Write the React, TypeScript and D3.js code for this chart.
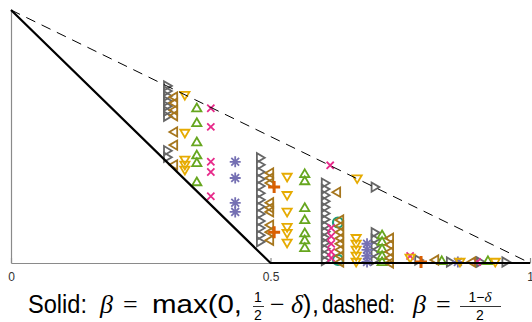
import React, { useEffect, useRef } from 'react';
import * as d3 from 'd3';

const W = 532;
const H = 322;

const xTicks = [0, 0.5, 1];
const xTickLabels = ['0', '0.5', '1'];

// boundary lines (delta, beta)
const solidX = [0, 0.5, 1];
const solidY = [0.5, 0, 0];
const dashedX = [0, 1];
const dashedY = [0.5, 0];

// each series: columns of [delta, beta values]
type Col = [number, number[]];

const tealCols: Col[] = [[0.63, [0.08, 0.006]]];
const orangeCols: Col[] = [
  [0.507, [0.15, 0.061]],
  [0.79, [0.002]],
];
const purpleCols: Col[] = [
  [0.432, [0.2, 0.168, 0.119, 0.101]],
  [0.686, [0.038, 0.026, 0.014, 0.002]],
  [0.861, [0.002]],
];
const pinkCols: Col[] = [
  [0.385, [0.306, 0.269, 0.2, 0.18, 0.132]],
  [0.615, [0.193]],
  [0.617, [0.069, 0.053, 0.038, 0.022, 0.01]],
  [0.769, [0.014]],
  [0.898, [0.002]],
];
const greenCols: Col[] = [
  [0.358, [0.306, 0.277, 0.239, 0.213, 0.198, 0.16]],
  [0.566, [0.176, 0.162, 0.109, 0.085, 0.059, 0.045, 0.03]],
  [0.715, [0.055, 0.042, 0.028, 0.014, 0.002]],
  [0.83, [0.004]],
  [0.919, [0.004]],
];
const yellowCols: Col[] = [
  [0.335, [0.332, 0.257, 0.204, 0.194, 0.184]],
  [0.532, [0.17, 0.134, 0.101, 0.071, 0.059, 0.04]],
  [0.667, [0.167]],
  [0.665, [0.049, 0.038, 0.026, 0.014, 0.002]],
  [0.769, [0.01]],
  [0.865, [0.002]],
  [0.933, [0.002]],
];
const brownCols: Col[] = [
  [0.314, [0.328, 0.316, 0.302, 0.291, 0.259, 0.233, 0.194]],
  [0.499, [0.178, 0.168, 0.158, 0.119, 0.109, 0.101, 0.075, 0.061, 0.045]],
  [0.628, [0.14]],
  [0.634, [0.085, 0.073, 0.061, 0.049, 0.038, 0.026, 0.014, 0.002]],
  [0.73, [0.049, 0.036, 0.022, 0.01, 0.0]],
  [0.817, [0.006]],
  [0.888, [0.002]],
];
const greyCols: Col[] = [
  [0.301, [0.35, 0.34, 0.33, 0.32, 0.31, 0.3, 0.29, 0.222, 0.209]],
  [0.48, [0.208, 0.194, 0.18, 0.166, 0.152, 0.138, 0.125, 0.111, 0.097, 0.083, 0.069, 0.055, 0.042]],
  [0.605, [0.158, 0.146, 0.134, 0.122, 0.11, 0.098, 0.086, 0.074, 0.062, 0.05, 0.04, 0.028, 0.016, 0.005]],
  [0.701, [0.15, 0.06, 0.047, 0.034, 0.02, 0.006]],
  [0.785, [0.006]],
  [0.846, [0.002]],
  [0.904, [0.002]],
  [0.953, [0.002]],
];

const pal = d3.schemeDark2;
// draw order matters a bit: later ones sit on top
const series = [
  { mk: '>', color: pal[7], cols: greyCols },
  { mk: 'o', color: pal[0], cols: tealCols },
  { mk: 'x', color: pal[3], cols: pinkCols },
  { mk: '*', color: pal[2], cols: purpleCols },
  { mk: '^', color: pal[4], cols: greenCols },
  { mk: 'v', color: pal[5], cols: yellowCols },
  { mk: '<', color: pal[6], cols: brownCols },
  { mk: '+', color: pal[1], cols: orangeCols },
];

function markerPath(mk: string): string {
  const p = d3.path();
  const r = 4.6;
  switch (mk) {
    case 'o':
      p.arc(0, 0, 5, 0, 2 * Math.PI);
      break;
    case '+':
      p.moveTo(-6, 0); p.lineTo(6, 0);
      p.moveTo(0, -6); p.lineTo(0, 6);
      break;
    case 'x':
      p.moveTo(-3.6, -3.6); p.lineTo(3.6, 3.6);
      p.moveTo(-3.6, 3.6); p.lineTo(3.6, -3.6);
      break;
    case '*': {
      const a = 5.5, b = 3.9;
      p.moveTo(-a, 0); p.lineTo(a, 0);
      p.moveTo(0, -a); p.lineTo(0, a);
      p.moveTo(-b, -b); p.lineTo(b, b);
      p.moveTo(-b, b); p.lineTo(b, -b);
      break;
    }
    case '^':
      p.moveTo(0, -r); p.lineTo(r, r * 0.7); p.lineTo(-r, r * 0.7); p.closePath();
      break;
    case 'v':
      p.moveTo(0, r); p.lineTo(r, -r * 0.7); p.lineTo(-r, -r * 0.7); p.closePath();
      break;
    case '<':
      p.moveTo(-r, 0); p.lineTo(r * 0.7, -r); p.lineTo(r * 0.7, r); p.closePath();
      break;
    default:
      p.moveTo(r, 0); p.lineTo(-r * 0.7, -r); p.lineTo(-r * 0.7, r); p.closePath();
  }
  return p.toString();
}

export default function App() {
  const ref = useRef<SVGGElement | null>(null);

  useEffect(() => {
    document.body.style.margin = '0';
    const root = d3.select(ref.current);
    root.selectAll('*').remove();

    const x = d3.scaleLinear().domain([0, 1]).range([11, 530]);
    const y = d3.scaleLinear().domain([0, 0.5]).range([263, 10]);
    const axisCol = '#8a8a8a';

    // axes
    const gx = root.append('g').attr('transform', `translate(0,${y(0)})`)
      .call(
        d3.axisBottom(x)
          .tickValues(xTicks)
          .tickFormat((d, i) => xTickLabels[i])
          .tickSizeInner(-5)
          .tickSizeOuter(0)
          .tickPadding(9)
      );
    gx.selectAll('.domain,.tick line').attr('stroke', axisCol).attr('stroke-width', 1.2);
    gx.selectAll('text')
      .attr('fill', '#333')
      .attr('font-size', 12)
      .attr('font-family', 'Liberation Sans, Arial, sans-serif');

    const gy = root.append('g').attr('transform', `translate(${x(0)},0)`)
      .call(d3.axisLeft(y).tickValues([]).tickSizeOuter(0));
    gy.selectAll('.domain').attr('stroke', axisCol).attr('stroke-width', 1.2);

    // markers
    for (const s of series) {
      const pts = s.cols.flatMap(([dx, ys]) => ys.map((b) => [dx, b] as [number, number]));
      root.append('g')
        .selectAll('path')
        .data(pts)
        .join('path')
        .attr('transform', (d) => `translate(${x(d[0])},${y(d[1])})`)
        .attr('d', markerPath(s.mk))
        .attr('fill', 'none')
        .attr('stroke', s.color)
        .attr('stroke-width', s.mk === '+' ? 3 : s.mk === 'o' ? 2.2 : 1.8)
        .attr('stroke-linejoin', 'miter');
    }

    // boundary lines on top
    root.append('path')
      .attr('d', d3.line<number>().x((_, i) => x(solidX[i])).y((d) => y(d))(solidY))
      .attr('fill', 'none')
      .attr('stroke', '#000')
      .attr('stroke-width', 2.2);
    root.append('path')
      .attr('d', d3.line<number>().x((_, i) => x(dashedX[i])).y((d) => y(d))(dashedY))
      .attr('fill', 'none')
      .attr('stroke', '#000')
      .attr('stroke-width', 1)
      .attr('stroke-dasharray', '10,7');
  }, []);

  const sans = 'Liberation Sans, Arial, sans-serif';
  const serif = 'Liberation Serif, DejaVu Serif, serif';
  const base = 313;
  const numY = 302;
  const barY = 306.5;
  const denY = 320;

  return (
    <svg width={W} height={H} style={{ display: 'block', background: '#fff' }}>
      <g ref={ref} />
      <g fill="#000">
        <text x={28} y={base} fontFamily={sans} fontSize={25} textLength={59} lengthAdjust="spacingAndGlyphs">Solid:</text>
        <text x={100} y={base} fontFamily={serif} fontStyle="italic" fontSize={26}>β</text>
        <text x={123} y={base} fontFamily={serif} fontSize={26}>=</text>
        <text x={152} y={base} fontFamily={sans} fontSize={26} textLength={90} lengthAdjust="spacingAndGlyphs">max(0,</text>
        <text x={258} y={numY} fontFamily={sans} fontSize={14} textAnchor="middle">1</text>
        <line x1={253} x2={264} y1={barY} y2={barY} stroke="#000" strokeWidth={0.8} />
        <text x={258} y={denY} fontFamily={sans} fontSize={14} textAnchor="middle">2</text>
        <text x={270} y={base} fontFamily={serif} fontSize={26}>−</text>
        <text x={291} y={base} fontFamily={serif} fontStyle="italic" fontSize={26}>δ</text>
        <text x={303} y={base} fontFamily={sans} fontSize={25}>)</text>
        <text x={312} y={base} fontFamily={sans} fontSize={25}>,</text>
        <text x={322} y={base} fontFamily={sans} fontSize={25} textLength={73} lengthAdjust="spacingAndGlyphs">dashed:</text>
        <text x={413} y={base} fontFamily={serif} fontStyle="italic" fontSize={26}>β</text>
        <text x={436} y={base} fontFamily={serif} fontSize={26}>=</text>
        <text x={480} y={numY} fontFamily={sans} fontSize={14} textAnchor="middle">1−<tspan fontFamily={serif} fontStyle="italic" fontSize={15}>δ</tspan></text>
        <line x1={460} x2={501} y1={barY} y2={barY} stroke="#000" strokeWidth={0.8} />
        <text x={480} y={denY} fontFamily={sans} fontSize={14} textAnchor="middle">2</text>
      </g>
    </svg>
  );
}
